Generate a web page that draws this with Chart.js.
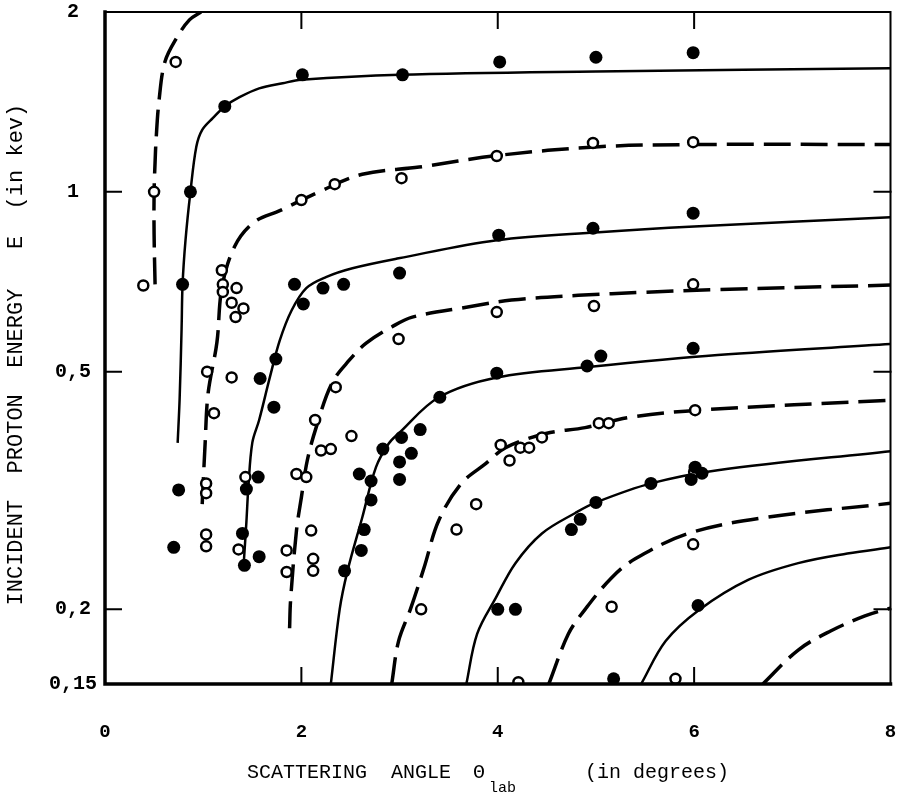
<!DOCTYPE html>
<html>
<head>
<meta charset="utf-8">
<title>Incident proton energy vs scattering angle</title>
<script src="https://cdn.jsdelivr.net/npm/chart.js@4.4.1/dist/chart.umd.min.js"></script>
<style>
  html, body { margin: 0; padding: 0; background: #fff; }
</style>
</head>
<body>
<canvas id="chart" width="898" height="796"></canvas>
<script>
// each curve: [scattering angle (deg), incident energy (keV)]
// curves alternate dashed / solid, starting top-left
const curve1 = [[0.51, 0.70], [0.50, 0.85], [0.50, 1.0], [0.51, 1.12], [0.52, 1.22], [0.55, 1.42], [0.61, 1.65], [0.73, 1.81], [0.86, 1.94], [0.98, 2.0]];
const curve2 = [[0.74, 0.38], [0.76, 0.45], [0.78, 0.59], [0.79, 0.70], [0.82, 0.83], [0.87, 1.0], [0.93, 1.19], [0.99, 1.27], [1.10, 1.33], [1.22, 1.39], [1.37, 1.44], [1.57, 1.49], [1.81, 1.52], [2.0, 1.54], [3.0, 1.57], [5.0, 1.59], [8.0, 1.61]];
const curve3 = [[0.99, 0.30], [1.02, 0.38], [1.05, 0.46], [1.14, 0.56], [1.19, 0.69], [1.32, 0.81], [1.52, 0.89], [1.78, 0.93], [2.18, 1.0], [2.62, 1.07], [3.2, 1.10], [3.99, 1.15], [5.03, 1.19], [6.0, 1.20], [8.0, 1.20]];
const curve4 = [[1.41, 0.235], [1.44, 0.28], [1.46, 0.32], [1.50, 0.38], [1.57, 0.415], [1.68, 0.49], [1.78, 0.564], [1.90, 0.633], [2.05, 0.69], [2.25, 0.72], [2.52, 0.745], [2.99, 0.774], [3.99, 0.83], [5.03, 0.856], [6.0, 0.875], [8.0, 0.907]];
const curve5 = [[1.88, 0.186], [1.89, 0.207], [1.95, 0.271], [2.0, 0.308], [2.06, 0.355], [2.15, 0.403], [2.31, 0.478], [2.49, 0.523], [2.66, 0.558], [2.92, 0.594], [3.13, 0.617], [3.68, 0.641], [4.14, 0.659], [4.82, 0.671], [5.5, 0.679], [6.24, 0.686], [8.0, 0.698]];
const curve6 = [[2.30, 0.15], [2.39, 0.20], [2.47, 0.232], [2.62, 0.285], [2.76, 0.346], [2.89, 0.379], [2.99, 0.394], [3.40, 0.453], [3.99, 0.489], [4.92, 0.509], [6.24, 0.533], [8.0, 0.556]];
const curve7 = [[2.92, 0.15], [2.99, 0.177], [3.11, 0.20], [3.25, 0.235], [3.40, 0.282], [3.63, 0.325], [3.88, 0.351], [4.08, 0.373], [4.49, 0.394], [4.89, 0.403], [5.33, 0.419], [6.04, 0.431], [8.0, 0.448]];
const curve8 = [[3.68, 0.15], [3.79, 0.182], [3.98, 0.209], [4.18, 0.239], [4.45, 0.268], [4.79, 0.290], [5.0, 0.302], [5.56, 0.325], [6.24, 0.342], [8.0, 0.368]];
const curve9 = [[4.52, 0.15], [4.72, 0.182], [4.89, 0.20], [5.16, 0.226], [5.40, 0.243], [5.94, 0.268], [6.72, 0.285], [8.0, 0.301]];
const curve10 = [[5.46, 0.15], [5.71, 0.177], [6.04, 0.199], [6.55, 0.224], [7.06, 0.239], [7.56, 0.248], [8.0, 0.254]];
const curve11 = [[6.70, 0.15], [7.06, 0.171], [7.39, 0.184], [7.74, 0.195], [8.0, 0.201]];

// measured points, filled dots
const filledPoints = [
    [1.22, 1.39], [0.87, 1.0], [0.79, 0.70], [2.01, 1.57], [3.03, 1.57], [4.02, 1.65], [5.0, 1.68], [5.99, 1.71],
    [4.01, 0.846], [4.97, 0.869], [5.99, 0.921],
    [1.93, 0.70], [2.02, 0.649], [2.22, 0.69], [2.43, 0.70], [3.0, 0.731],
    [1.74, 0.525], [1.58, 0.487], [1.72, 0.436],
    [0.75, 0.317], [0.70, 0.254],
    [1.56, 0.333], [1.44, 0.318], [1.40, 0.268], [1.57, 0.245], [1.42, 0.237],
    [2.59, 0.337], [2.71, 0.328], [2.71, 0.305], [2.64, 0.272], [2.61, 0.251], [2.44, 0.232],
    [2.83, 0.371], [3.02, 0.388], [3.21, 0.400], [3.0, 0.353], [3.12, 0.365], [3.0, 0.330],
    [3.41, 0.453], [3.99, 0.497], [4.91, 0.511], [5.05, 0.531], [5.99, 0.547],
    [4.75, 0.272], [4.84, 0.283], [5.0, 0.302], [5.56, 0.325], [6.01, 0.346], [5.97, 0.33], [6.08, 0.338],
    [4.0, 0.2], [4.18, 0.2], [6.04, 0.203], [5.18, 0.153]
];
// measured points, open circles
const openPoints = [
    [0.72, 1.65], [0.50, 1.0], [0.39, 0.697],
    [2.0, 0.969], [2.34, 1.03], [3.02, 1.054], [3.99, 1.148], [4.97, 1.207], [5.99, 1.211],
    [1.19, 0.739], [1.20, 0.70], [1.20, 0.68], [1.34, 0.69], [1.29, 0.652], [1.41, 0.638], [1.33, 0.617],
    [1.04, 0.50], [1.29, 0.489], [1.11, 0.426],
    [1.03, 0.325], [1.03, 0.313], [1.03, 0.267], [1.03, 0.255],
    [1.43, 0.333], [1.36, 0.252],
    [1.95, 0.337], [2.05, 0.333],
    [1.85, 0.251], [1.85, 0.231],
    [2.10, 0.271], [2.12, 0.243], [2.12, 0.232],
    [2.35, 0.471], [2.14, 0.415], [2.51, 0.390], [2.20, 0.369], [2.30, 0.371],
    [2.99, 0.567], [3.99, 0.629], [4.98, 0.644], [5.99, 0.70],
    [4.03, 0.377], [4.12, 0.355], [4.23, 0.373], [4.32, 0.373], [4.45, 0.388], [5.03, 0.41], [5.13, 0.41], [6.01, 0.431],
    [3.78, 0.300], [3.58, 0.272], [3.22, 0.2],
    [5.16, 0.202], [5.99, 0.257], [6.0, 0.34],
    [4.21, 0.151], [5.81, 0.153]
];

// axis ticks
const xTickValues = [0, 2, 4, 6, 8];
const yTickValues = [0.15, 0.2, 0.5, 1, 2];
const yTickLabels = ["0,15", "0,2", "0,5", "1", "2"];
const innerTicksX = [2, 4, 6];
const innerTicksY = [0.2, 0.5, 1];

const MONO = "'Liberation Mono', 'DejaVu Sans Mono', monospace";

const toXY = pts => pts.map(p => ({x: p[0], y: p[1]}));

const curves = [curve1, curve2, curve3, curve4, curve5, curve6, curve7, curve8, curve9, curve10, curve11];

// dashed for odd-numbered curves, solid for the others
const curveSets = curves.map((c, i) => {
    const dashed = i % 2 === 0;
    return {
        data: toXY(c),
        showLine: true,
        pointRadius: 0,
        pointHoverRadius: 0,
        borderColor: "#000",
        borderWidth: dashed ? 3.5 : 2.5,
        borderDash: dashed ? [27, 10] : [],
        tension: 0.35,
        order: 2
    };
});

// frame, inward tick marks and the x title (with subscript)
const framePlugin = {
    id: "frame",
    afterDraw(chart) {
        const {ctx, chartArea: a, scales: {x, y}} = chart;
        ctx.save();
        ctx.strokeStyle = "#000";
        ctx.lineCap = "square";

        ctx.lineWidth = 2;
        ctx.beginPath();
        ctx.moveTo(a.left, a.top);
        ctx.lineTo(a.right, a.top);
        ctx.lineTo(a.right, a.bottom);
        ctx.stroke();

        ctx.lineWidth = 3.5;
        ctx.beginPath();
        ctx.moveTo(a.left, a.top);
        ctx.lineTo(a.left, a.bottom);
        ctx.lineTo(a.right, a.bottom);
        ctx.stroke();

        ctx.lineWidth = 2;
        ctx.beginPath();
        innerTicksX.forEach(v => {
            const px = x.getPixelForValue(v);
            ctx.moveTo(px, a.bottom);
            ctx.lineTo(px, a.bottom - 16);
            ctx.moveTo(px, a.top);
            ctx.lineTo(px, a.top + 16);
        });
        innerTicksY.forEach(v => {
            const py = y.getPixelForValue(v);
            ctx.moveTo(a.left, py);
            ctx.lineTo(a.left + 16, py);
            ctx.moveTo(a.right, py);
            ctx.lineTo(a.right - 16, py);
        });
        ctx.stroke();

        // x axis title
        ctx.fillStyle = "#000";
        ctx.textBaseline = "alphabetic";
        ctx.textAlign = "left";
        ctx.font = "20px " + MONO;
        ctx.fillText("SCATTERING  ANGLE", 247, 778);
        ctx.fillText("\u0398", 473, 778);
        ctx.fillText("(in degrees)", 585, 778);
        ctx.font = "15px " + MONO;
        ctx.fillText("lab", 489, 792);
        ctx.restore();
    }
};

new Chart(document.getElementById("chart"), {
    type: "scatter",
    data: {
        datasets: [
            {
                data: toXY(filledPoints),
                pointStyle: "circle",
                pointRadius: 6.5,
                pointHoverRadius: 6.5,
                pointBackgroundColor: "#000",
                pointBorderWidth: 0,
                order: 0
            },
            {
                data: toXY(openPoints),
                pointStyle: "circle",
                pointRadius: 5,
                pointHoverRadius: 5,
                pointBackgroundColor: "#fff",
                pointBorderColor: "#000",
                pointBorderWidth: 2.5,
                order: 1
            },
            ...curveSets
        ]
    },
    options: {
        responsive: false,
        animation: false,
        devicePixelRatio: 1,
        layout: {padding: {top: 12, right: 5, left: 0, bottom: 0}},
        plugins: {
            legend: {display: false},
            tooltip: {enabled: false}
        },
        scales: {
            x: {
                type: "linear",
                min: 0,
                max: 8,
                afterBuildTicks: s => { s.ticks = xTickValues.map(v => ({value: v})); },
                afterFit: s => {
                    s.height = 112;
                    // keep the tick padding from eating into the plot width
                    s.paddingLeft = 0;
                    s.paddingRight = 0;
                },
                grid: {display: false, drawTicks: false},
                border: {display: false},
                ticks: {
                    padding: 37,
                    maxRotation: 0,
                    color: "#000",
                    font: {family: MONO, size: 19, weight: "bold"},
                    callback: v => String(v)
                }
            },
            y: {
                type: "logarithmic",
                min: 0.15,
                max: 2,
                afterBuildTicks: s => { s.ticks = yTickValues.map(v => ({value: v})); },
                afterFit: s => {
                    s.width = 105;
                    s.paddingTop = 0;
                    s.paddingBottom = 0;
                },
                grid: {display: false, drawTicks: false},
                border: {display: false},
                ticks: {
                    padding: 8,
                    crossAlign: "center",
                    color: "#000",
                    font: {family: MONO, size: 20, weight: "bold"},
                    callback: v => yTickLabels[yTickValues.indexOf(v)]
                },
                title: {
                    display: true,
                    text: "INCIDENT  PROTON  ENERGY   E  (in kev) ",
                    color: "#000",
                    font: {family: MONO, size: 22},
                    padding: {top: 3, bottom: 0}
                }
            }
        }
    },
    plugins: [framePlugin]
});
</script>
</body>
</html>
